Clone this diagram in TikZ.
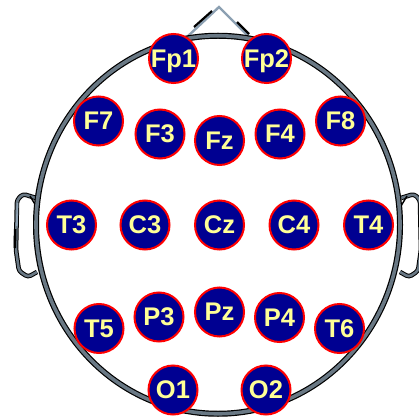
\documentclass[tikz,border=0pt]{standalone}
\usepackage{fontspec}
\setmainfont{Liberation Sans}
\definecolor{navy}{RGB}{0,0,145}
\definecolor{yel}{RGB}{255,255,150}
\definecolor{band}{RGB}{105,120,132}
\definecolor{lightband}{RGB}{140,160,178}
\begin{document}
\begin{tikzpicture}[x=1pt,y=-1pt,
  electrode/.style={circle, fill=navy, draw=red, line width=2pt, minimum size=49pt,
    inner sep=0pt, text=yel, text height=17.5pt, text depth=0pt,
    font=\bfseries\fontsize{25.5}{25.5}\selectfont},
  bandouter/.style={line width=6pt, black},
  bandinner/.style={line width=3.6pt, band},
  earouter/.style={line width=4.6pt, black, rounded corners=3pt, line join=round},
  earinner/.style={line width=2.6pt, band, rounded corners=3pt, line join=round},
  noseline/.style={line width=2.4pt, lightband, line cap=round},
  nosedark/.style={line width=2.2pt, black}]
\useasboundingbox (0,0) rectangle (419,419);
% nose
\coordinate (nl) at (187,37);
\coordinate (na) at (219,7);
\coordinate (nr) at (250,38);
\draw[noseline] (nl) -- (na) -- (nr);
\draw[nosedark] (194,27) -- (212,11);
\draw[nosedark] (237,22) -- (249,34);
% left ear
\draw[earouter] (36,198) -- (23,194) -- (17,200) -- (16,250) -- (19,271) -- (28,277) -- (37,272);
\draw[earinner] (36,198) -- (23,194) -- (17,200) -- (16,250) -- (19,271) -- (28,277) -- (37,272);
\draw[line width=1.8pt, lightband] (17.5,203) -- (16.8,226);
\draw[line width=2.6pt, black] (15.2,229) -- (14.8,248);
\draw[line width=1.4pt, black] (30,196) -- (36,206);
% right ear
\draw[earouter] (401,198) -- (414,194) -- (420,200) -- (421,250) -- (418,271) -- (409,277) -- (400,272);
\draw[earinner] (401,198) -- (414,194) -- (420,200) -- (421,250) -- (418,271) -- (409,277) -- (400,272);
\draw[line width=1.4pt, black] (407,196) -- (401,206);
% head
\draw[bandouter] (218,224.75) ellipse [x radius=182, y radius=189];
\draw[bandinner] (218,224.75) ellipse [x radius=182, y radius=189];
% electrodes
\node[electrode] (Fp1) at (173.5,58.5) {Fp1};
\node[electrode] (Fp2) at (266.5,58.5) {Fp2};
\node[electrode] (F7) at (98.5,121) {F7};
\node[electrode] (F3) at (160,134) {F3};
\node[electrode] (Fz) at (219.5,140.5) {Fz};
\node[electrode] (F4) at (280,134) {F4};
\node[electrode] (F8) at (340.5,121) {F8};
\node[electrode] (T3) at (71.5,225) {T3};
\node[electrode] (C3) at (145,225) {C3};
\node[electrode] (Cz) at (219.5,225) {Cz};
\node[electrode] (C4) at (294,225) {C4};
\node[electrode] (T4) at (368.5,225) {T4};
\node[electrode] (T5) at (99,328.5) {T5};
\node[electrode] (P3) at (159,317) {P3};
\node[electrode] (Pz) at (219.5,312) {Pz};
\node[electrode] (P4) at (279.5,317.5) {P4};
\node[electrode] (T6) at (339.5,328.5) {T6};
\node[electrode] (O1) at (173,390) {O1};
\node[electrode] (O2) at (266,390) {O2};
\end{tikzpicture}
\end{document}
